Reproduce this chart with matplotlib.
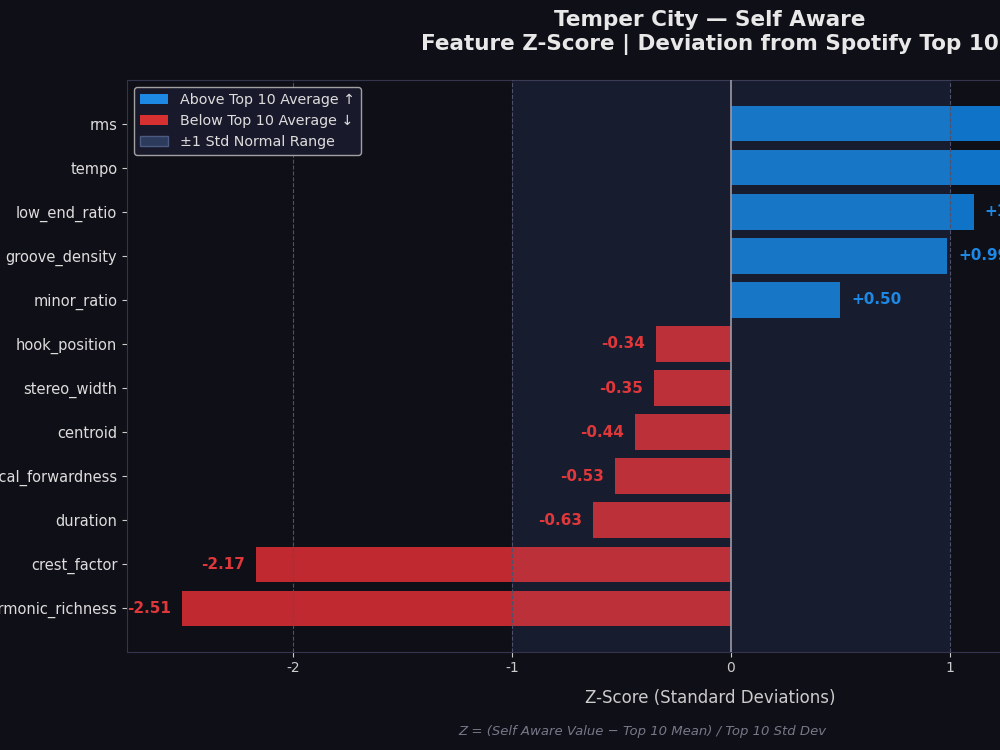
import matplotlib
matplotlib.use("Agg")
from matplotlib import pyplot as plt
from matplotlib.patches import Patch

plt.rcParams["axes.unicode_minus"] = False

features = ["rms", "tempo", "low_end_ratio", "groove_density", "minor_ratio",
            "hook_position", "stereo_width", "centroid", "vocal_forwardness",
            "duration", "crest_factor", "harmonic_richness"]
zscores = [2.32, 1.60, 1.11, 0.99, 0.50,
           -0.34, -0.35, -0.44, -0.53,
           -0.63, -2.17, -2.51]

bg = "#0f0f17"
blue = "#0f74c8"
red = "#c0292f"
blue_txt = "#1e88e5"
red_txt = "#e0383a"

fig = plt.figure(figsize=(10, 7.5), dpi=100, facecolor=bg)
ax = fig.add_axes([0.127, 0.131, 1.166, 0.762])
ax.set_facecolor(bg)

# normal range band: dark fill behind, light tint over the bars
ax.axvspan(-1, 1, color="#0e1323", zorder=0)
ax.axvspan(-1, 1, color="#8a8fb0", alpha=0.08, zorder=3.5, linewidth=0)

ypos = list(range(len(features)))
colors = [blue if z > 0 else red for z in zscores]
ax.barh(ypos, zscores, height=0.8, color=colors, zorder=3)

for y, z in zip(ypos, zscores):
    if z > 0:
        ax.text(z + 0.05, y, f"+{z:.2f}", va="center", ha="left",
                color=blue_txt, fontsize=11, fontweight="bold", zorder=5)
    else:
        ax.text(z - 0.05, y, f"{z:.2f}", va="center", ha="right",
                color=red_txt, fontsize=11, fontweight="bold", zorder=5)

ax.axvline(0, color="#9a9aa8", linewidth=1.2, zorder=4)
for xv in [-2, -1, 1, 2]:
    ax.axvline(xv, color="#50506a", linewidth=0.8, linestyle="--", zorder=4)

ax.set_yticks(ypos)
ax.set_yticklabels(features)
ax.invert_yaxis()
ax.set_xlim(min(zscores) - 0.25, max(zscores) + 0.25)
ax.set_xticks([-2, -1, 0, 1, 2])

ax.tick_params(colors="#cccccc", labelsize=10)
ax.tick_params(axis="y", labelcolor="#dddddd", labelsize=10.5)
for s in ax.spines.values():
    s.set_color("#34344e")

ax.set_xlabel("Z-Score (Standard Deviations)", color="#cccccc", fontsize=12, labelpad=10)
ax.set_title("Temper City \u2014 Self Aware\nFeature Z-Score | Deviation from Spotify Top 10",
             color="#e8e8e8", fontsize=15.5, fontweight="bold", pad=22)

handles = [Patch(facecolor="#1e88e5", label="Above Top 10 Average \u2191"),
           Patch(facecolor="#d63031", label="Below Top 10 Average \u2193"),
           Patch(facecolor="#2c3a5c", edgecolor="#4a5a80", label="\u00b11 Std Normal Range")]
leg = ax.legend(handles=handles, loc="upper left", fontsize=10.3,
                facecolor="#1a1a2e", edgecolor="#aaaaaa", labelcolor="#dddddd",
                framealpha=0.95)
leg.set_zorder(10)

fig.text(0.642, 0.024, "Z = (Self Aware Value \u2212 Top 10 Mean) / Top 10 Std Dev",
         ha="center", va="center", color="#777788", fontsize=9.5, style="italic")

fig.savefig("out.png", dpi=100, facecolor=bg)
